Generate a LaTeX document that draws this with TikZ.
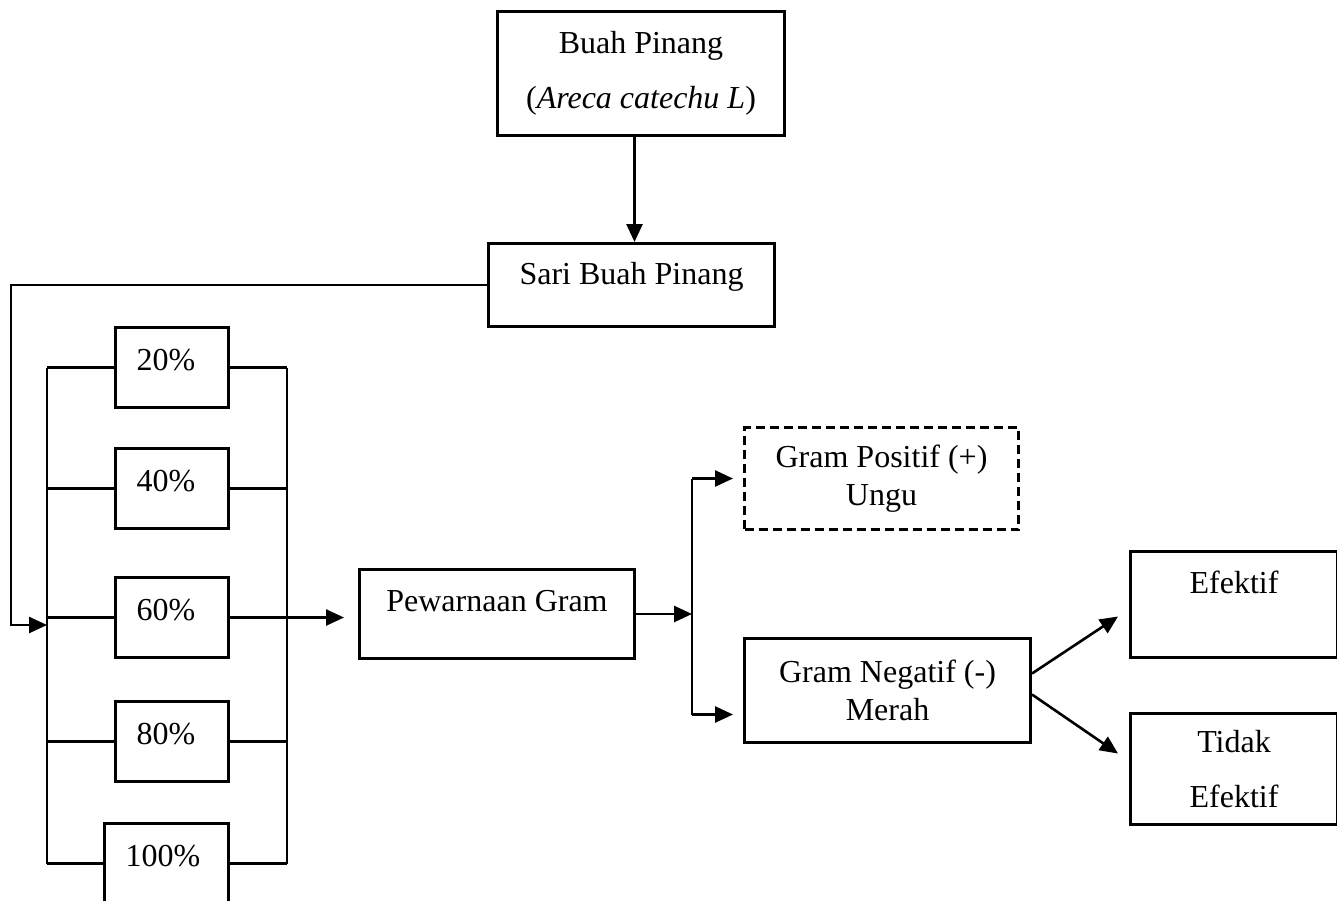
\documentclass[tikz,border=0pt]{standalone}
\usepackage{fontspec}
\setmainfont{Liberation Serif}
\usetikzlibrary{arrows.meta}

\begin{document}
\begin{tikzpicture}[x=0.5pt,y=-0.5pt,>={Triangle[length=9pt,width=8pt]},
                    line width=1.3pt,font=\fontsize{16pt}{19pt}\selectfont]
  \tikzstyle{box}=[draw,line width=1.5pt,anchor=north west,inner sep=0pt,align=center]
  \tikzstyle{pct}=[box,text height=21.5pt,text depth=18.5pt,inner xsep=10.5pt,text width=35.5pt,align=left]
  \useasboundingbox (0,0) rectangle (1337,900);

  \node[box,minimum width=143.5pt,minimum height=62pt] (buah) at (496,10) {Buah Pinang\\[8.5pt](\textit{Areca catechu L})};
  \node[box,minimum width=143pt,text height=20.5pt,text depth=21pt] (sari) at (487,242) {Sari Buah Pinang};

  \node[pct] (p20) at (114,326) {20\%};
  \node[pct] (p40) at (114,447) {40\%};
  \node[pct] (p60) at (114,576) {60\%};
  \node[pct] (p80) at (114,700) {80\%};
  \node[pct,text width=41pt] (p100) at (103,822) {100\%};

  \node[box,minimum width=137.5pt,text height=21pt,text depth=23.5pt] (peww) at (358,568) {Pewarnaan Gram};
  \node[box,dash pattern=on 4.5pt off 2.5pt,minimum width=137pt,minimum height=51pt] (pos) at (743,426) {Gram Positif (+)\\Ungu};
  \node[box,minimum width=143pt,minimum height=52pt] (neg) at (743,637) {Gram Negatif (-)\\Merah};
  \node[box,minimum width=103.5pt,text height=21pt,text depth=32pt] (eff) at (1129,550) {Efektif};
  \node[box,minimum width=103.5pt,minimum height=55.5pt] (tdk) at (1129,712) {Tidak\\[8.5pt]Efektif};

  \coordinate (lft) at (11,0);
  \coordinate (lbus) at (47,0);
  \coordinate (rbus) at (287,0);
  \coordinate (gbus) at (692,0);
  \coordinate (in60) at (47,625);
  \coordinate (negin) at ([yshift=-12pt]neg.west);

  \draw[->] ([xshift=-3.25pt]buah.south) -- ([xshift=-3.25pt]buah.south |- sari.north);
  \draw[->] (sari.west) -| (lft |- in60) -- (in60);

  \draw (p20.west -| lbus) -- (p100.west -| lbus);
  \draw (p20.east -| rbus) -- (p100.east -| rbus);
  \foreach \p in {p20,p40,p60,p80,p100}
    \draw (\p.west -| lbus) -- (\p.west) (\p.east) -- (\p.east -| rbus);
  \draw[->,shorten >=7pt] (p60.east -| rbus) -- (p60.east -| peww.west);

  \draw[->] (peww.east) -- (peww.east -| gbus);
  \draw (pos.west -| gbus) -- (negin -| gbus);
  \draw[->,shorten >=5pt] (pos.west -| gbus) -- (pos.west);
  \draw[->,shorten >=5pt] (negin -| gbus) -- (negin);

  \draw[->] ([yshift=8.5pt]neg.east) -- ([shift={(-5.5pt,-6pt)}]eff.west);
  \draw[->] ([yshift=-2pt]neg.east) -- ([shift={(-5.5pt,7.75pt)}]tdk.west);
\end{tikzpicture}
\end{document}
